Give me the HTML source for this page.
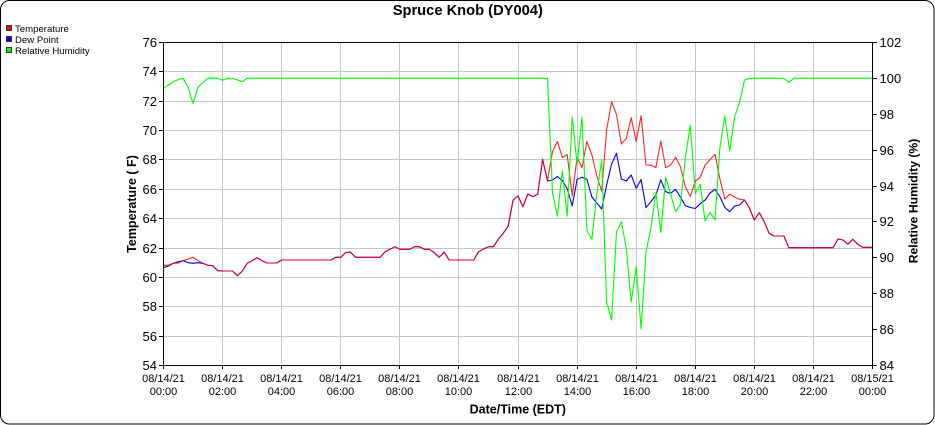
<!DOCTYPE html>
<html>
<head>
<meta charset="utf-8">
<style>
html,body{margin:0;padding:0;background:#fff;}
svg{display:block;}
text{font-family:"Liberation Sans",Arial,sans-serif;fill:#000;}
</style>
</head>
<body>
<svg width="935" height="425" viewBox="0 0 935 425" xmlns="http://www.w3.org/2000/svg">
<rect x="0.5" y="0.5" width="933.5" height="423.5" rx="9" ry="9" fill="#fff" stroke="#000" stroke-width="1"/>

<text x="467.8" y="15" font-size="14.7" font-weight="bold" text-anchor="middle">Spruce Knob (DY004)</text>

<!-- legend -->
<rect x="6.5" y="25.5" width="5" height="5" fill="#ff0000" stroke="#333" stroke-width="1"/>
<text x="15" y="32" font-size="9.6">Temperature</text>
<rect x="6.5" y="36.5" width="5" height="5" fill="#0000ff" stroke="#333" stroke-width="1"/>
<text x="15" y="43" font-size="9.6">Dew Point</text>
<rect x="6.5" y="47.5" width="5" height="5" fill="#00ff00" stroke="#333" stroke-width="1"/>
<text x="15" y="54" font-size="9.6">Relative Humidity</text>

<!-- grid -->
<g stroke="#c6c6c6" stroke-width="1">
<line x1="163.5" x2="872.5" y1="336.5" y2="336.5"/>
<line x1="163.5" x2="872.5" y1="306.5" y2="306.5"/>
<line x1="163.5" x2="872.5" y1="277.5" y2="277.5"/>
<line x1="163.5" x2="872.5" y1="248.5" y2="248.5"/>
<line x1="163.5" x2="872.5" y1="218.5" y2="218.5"/>
<line x1="163.5" x2="872.5" y1="189.5" y2="189.5"/>
<line x1="163.5" x2="872.5" y1="159.5" y2="159.5"/>
<line x1="163.5" x2="872.5" y1="130.5" y2="130.5"/>
<line x1="163.5" x2="872.5" y1="101.5" y2="101.5"/>
<line x1="163.5" x2="872.5" y1="71.5" y2="71.5"/>
<line y1="42.5" y2="365.5" x1="222.5" x2="222.5"/>
<line y1="42.5" y2="365.5" x1="281.5" x2="281.5"/>
<line y1="42.5" y2="365.5" x1="340.5" x2="340.5"/>
<line y1="42.5" y2="365.5" x1="399.5" x2="399.5"/>
<line y1="42.5" y2="365.5" x1="458.5" x2="458.5"/>
<line y1="42.5" y2="365.5" x1="518.5" x2="518.5"/>
<line y1="42.5" y2="365.5" x1="577.5" x2="577.5"/>
<line y1="42.5" y2="365.5" x1="636.5" x2="636.5"/>
<line y1="42.5" y2="365.5" x1="695.5" x2="695.5"/>
<line y1="42.5" y2="365.5" x1="754.5" x2="754.5"/>
<line y1="42.5" y2="365.5" x1="813.5" x2="813.5"/>
</g>

<!-- series -->
<g fill="none" stroke-width="1.1" stroke-linejoin="round">
<polyline stroke="#0000ff" points="163.5,267.7 168.4,266 173.3,263.3 178.3,261.7 183.2,260.7 188.1,262.7 193,263.3 198,262.7 202.9,263.3 207.8,265.3 212.7,265.7 217.7,270.7 222.6,271 232.4,271 237.4,275.7 242.3,271 247.2,263.3 252.1,260.7 257,257.7 262,260.7 266.9,263 276.7,263 281.7,260 330.9,260 335.8,257.3 340.8,257.3 345.7,252.5 350.6,252.2 355.5,257.3 380.1,257.3 385.1,251.7 390,249.3 394.9,246.7 399.8,249.3 409.7,249.3 414.6,246.7 419.5,246.7 424.5,249.3 429.4,249.3 434.3,252.7 439.2,257.3 444.2,252 449.1,260 473.7,260 478.6,251.7 483.5,249 488.5,246.7 493.4,246.7 498.3,239.3 503.2,233.3 508.2,226 513.1,200 518,196 522.9,206.7 527.9,194 532.8,196.7 537.7,194.3 542.6,159.3 547.5,181 552.5,180 557.4,176.5 562.3,180.7 567.2,188.5 572.2,206 577.1,179.3 582,177.3 586.9,179.3 591.9,197 596.8,203 601.7,209 606.6,185 611.6,164 616.5,153.3 621.4,179 626.3,181 631.2,175 636.2,188.3 641.1,179.5 646,207.6 650.9,201.7 655.9,195 660.8,179.8 665.7,191.7 670.6,193.3 675.6,189.3 680.5,197.3 685.4,205.7 690.3,207.5 695.3,208.5 700.2,203.7 705.1,200 710,193 715,189.3 719.9,196.5 724.8,207.5 729.7,211.7 734.6,206 739.6,205 744.5,200 749.4,208 754.3,220 759.3,212.7 764.2,221.7 769.1,233.3 774,236 783.9,236 788.8,247.7 833.1,247.7 838,239 843,240 847.9,244.3 852.8,239.3 857.7,244.3 862.7,247.3 872.5,247.3"/>
<polyline stroke="#ff0000" stroke-opacity="0.85" points="163.5,265.3 168.4,265.3 173.3,263.3 178.3,263 183.2,260.7 188.1,259 193,257.3 198,260.7 202.9,263.3 207.8,265.3 212.7,265.7 217.7,270.7 222.6,271 232.4,271 237.4,275.7 242.3,271 247.2,263.3 252.1,260.7 257,257.7 262,260.7 266.9,263 276.7,263 281.7,260 330.9,260 335.8,257.3 340.8,257.3 345.7,252.5 350.6,252.2 355.5,257.3 380.1,257.3 385.1,251.7 390,249.3 394.9,246.7 399.8,249.3 409.7,249.3 414.6,246.7 419.5,246.7 424.5,249.3 429.4,249.3 434.3,252.7 439.2,257.3 444.2,252 449.1,260 473.7,260 478.6,251.7 483.5,249 488.5,246.7 493.4,246.7 498.3,239.3 503.2,233.3 508.2,226 513.1,200 518,196 522.9,206.7 527.9,194 532.8,196.7 537.7,194.3 542.6,159.3 547.5,181 552.5,151.5 557.4,141.5 562.3,157.5 567.2,154.7 572.2,196 577.1,157.5 582,167.7 586.9,141.5 591.9,155 596.8,176 601.7,191 606.6,130 611.6,101.7 616.5,114.7 621.4,144 626.3,138.3 631.2,117.7 636.2,141.3 641.1,115.7 646,165 650.9,165.3 655.9,167.5 660.8,141 665.7,167.7 670.6,165 675.6,157.3 680.5,166.7 685.4,186.7 690.3,196.5 695.3,181 700.2,177.5 705.1,165 710,159.7 715,154.3 719.9,179 724.8,199 729.7,194.2 734.6,197 739.6,199.2 744.5,200 749.4,208 754.3,220 759.3,212.7 764.2,221.7 769.1,233.3 774,236 783.9,236 788.8,247.7 833.1,247.7 838,239 843,240 847.9,244.3 852.8,239.3 857.7,244.3 862.7,247.3 872.5,247.3"/>
<polyline stroke="#00ff00" points="163.5,88.3 168.4,85 173.3,81.7 178.3,79.5 183.2,78.3 188.1,87.3 193,103.3 198,87.3 202.9,82.5 207.8,78.3 217.7,78.3 222.6,80.3 227.5,78.3 232.4,78.3 237.4,79.8 242.3,81.7 247.2,78.3 547.5,78.3 552.5,192.5 557.4,216.2 562.3,171 567.2,216.2 572.2,117 577.1,164 582,117 586.9,230.5 591.9,239.2 596.8,194 601.7,160 606.6,301.7 611.6,320 616.5,232 621.4,221.7 626.3,248.3 631.2,302 636.2,266.7 641.1,329 646,251.7 650.9,228.3 655.9,192.5 660.8,232.3 665.7,177.3 670.6,194 675.6,211.7 680.5,204.3 685.4,157.3 690.3,125 695.3,193.6 700.2,184.2 705.1,221 710,212.3 715,220 719.9,148 724.8,116 729.7,151 734.6,117 739.6,102.2 744.5,80 749.4,78.3 783.9,78.3 788.8,82.3 793.7,78.3 872.5,78.3"/>
</g>

<!-- frame -->
<rect x="163.5" y="42.5" width="709" height="323" fill="none" stroke="#000" stroke-width="1"/>

<!-- left ticks -->
<g stroke="#000" stroke-width="1">
<line x1="159" x2="163.5" y1="365.5" y2="365.5"/>
<line x1="159" x2="163.5" y1="336.5" y2="336.5"/>
<line x1="159" x2="163.5" y1="306.5" y2="306.5"/>
<line x1="159" x2="163.5" y1="277.5" y2="277.5"/>
<line x1="159" x2="163.5" y1="248.5" y2="248.5"/>
<line x1="159" x2="163.5" y1="218.5" y2="218.5"/>
<line x1="159" x2="163.5" y1="189.5" y2="189.5"/>
<line x1="159" x2="163.5" y1="159.5" y2="159.5"/>
<line x1="159" x2="163.5" y1="130.5" y2="130.5"/>
<line x1="159" x2="163.5" y1="101.5" y2="101.5"/>
<line x1="159" x2="163.5" y1="71.5" y2="71.5"/>
<line x1="159" x2="163.5" y1="42.5" y2="42.5"/>
<!-- right ticks -->
<line x1="872.5" x2="877" y1="365.5" y2="365.5"/>
<line x1="872.5" x2="877" y1="329.5" y2="329.5"/>
<line x1="872.5" x2="877" y1="293.5" y2="293.5"/>
<line x1="872.5" x2="877" y1="257.5" y2="257.5"/>
<line x1="872.5" x2="877" y1="221.5" y2="221.5"/>
<line x1="872.5" x2="877" y1="186.5" y2="186.5"/>
<line x1="872.5" x2="877" y1="150.5" y2="150.5"/>
<line x1="872.5" x2="877" y1="114.5" y2="114.5"/>
<line x1="872.5" x2="877" y1="78.5" y2="78.5"/>
<line x1="872.5" x2="877" y1="42.5" y2="42.5"/>
<!-- bottom ticks -->
<line y1="365.5" y2="369" x1="163.5" x2="163.5"/>
<line y1="365.5" y2="369" x1="222.5" x2="222.5"/>
<line y1="365.5" y2="369" x1="281.5" x2="281.5"/>
<line y1="365.5" y2="369" x1="340.5" x2="340.5"/>
<line y1="365.5" y2="369" x1="399.5" x2="399.5"/>
<line y1="365.5" y2="369" x1="458.5" x2="458.5"/>
<line y1="365.5" y2="369" x1="518.5" x2="518.5"/>
<line y1="365.5" y2="369" x1="577.5" x2="577.5"/>
<line y1="365.5" y2="369" x1="636.5" x2="636.5"/>
<line y1="365.5" y2="369" x1="695.5" x2="695.5"/>
<line y1="365.5" y2="369" x1="754.5" x2="754.5"/>
<line y1="365.5" y2="369" x1="813.5" x2="813.5"/>
<line y1="365.5" y2="369" x1="872.5" x2="872.5"/>
</g>

<!-- left labels -->
<g font-size="13" text-anchor="end">
<text x="157" y="370">54</text>
<text x="157" y="341">56</text>
<text x="157" y="311">58</text>
<text x="157" y="282">60</text>
<text x="157" y="253">62</text>
<text x="157" y="223">64</text>
<text x="157" y="194">66</text>
<text x="157" y="164">68</text>
<text x="157" y="135">70</text>
<text x="157" y="106">72</text>
<text x="157" y="76">74</text>
<text x="157" y="47">76</text>
</g>

<!-- right labels -->
<g font-size="13" text-anchor="start">
<text x="879.5" y="370">84</text>
<text x="879.5" y="334">86</text>
<text x="879.5" y="298">88</text>
<text x="879.5" y="262">90</text>
<text x="879.5" y="226">92</text>
<text x="879.5" y="191">94</text>
<text x="879.5" y="155">96</text>
<text x="879.5" y="119">98</text>
<text x="879.5" y="83">100</text>
<text x="879.5" y="47">102</text>
</g>

<!-- bottom labels -->
<g font-size="11" text-anchor="middle">
<text x="163.5" y="381.8">08/14/21</text><text x="163.5" y="395">00:00</text>
<text x="222.5" y="381.8">08/14/21</text><text x="222.5" y="395">02:00</text>
<text x="281.5" y="381.8">08/14/21</text><text x="281.5" y="395">04:00</text>
<text x="340.5" y="381.8">08/14/21</text><text x="340.5" y="395">06:00</text>
<text x="399.5" y="381.8">08/14/21</text><text x="399.5" y="395">08:00</text>
<text x="458.5" y="381.8">08/14/21</text><text x="458.5" y="395">10:00</text>
<text x="518.5" y="381.8">08/14/21</text><text x="518.5" y="395">12:00</text>
<text x="577.5" y="381.8">08/14/21</text><text x="577.5" y="395">14:00</text>
<text x="636.5" y="381.8">08/14/21</text><text x="636.5" y="395">16:00</text>
<text x="695.5" y="381.8">08/14/21</text><text x="695.5" y="395">18:00</text>
<text x="754.5" y="381.8">08/14/21</text><text x="754.5" y="395">20:00</text>
<text x="813.5" y="381.8">08/14/21</text><text x="813.5" y="395">22:00</text>
<text x="872.5" y="381.8">08/15/21</text><text x="872.5" y="395">00:00</text>
</g>

<!-- axis titles -->
<text x="517.8" y="413.5" font-size="12.5" font-weight="bold" text-anchor="middle">Date/Time (EDT)</text>
<text transform="translate(136,204) rotate(-90)" font-size="12.5" font-weight="bold" text-anchor="middle">Temperature ( F)</text>
<text transform="translate(917.5,201) rotate(-90)" font-size="12.2" font-weight="bold" text-anchor="middle">Relative Humidity (%)</text>
</svg>
</body>
</html>
